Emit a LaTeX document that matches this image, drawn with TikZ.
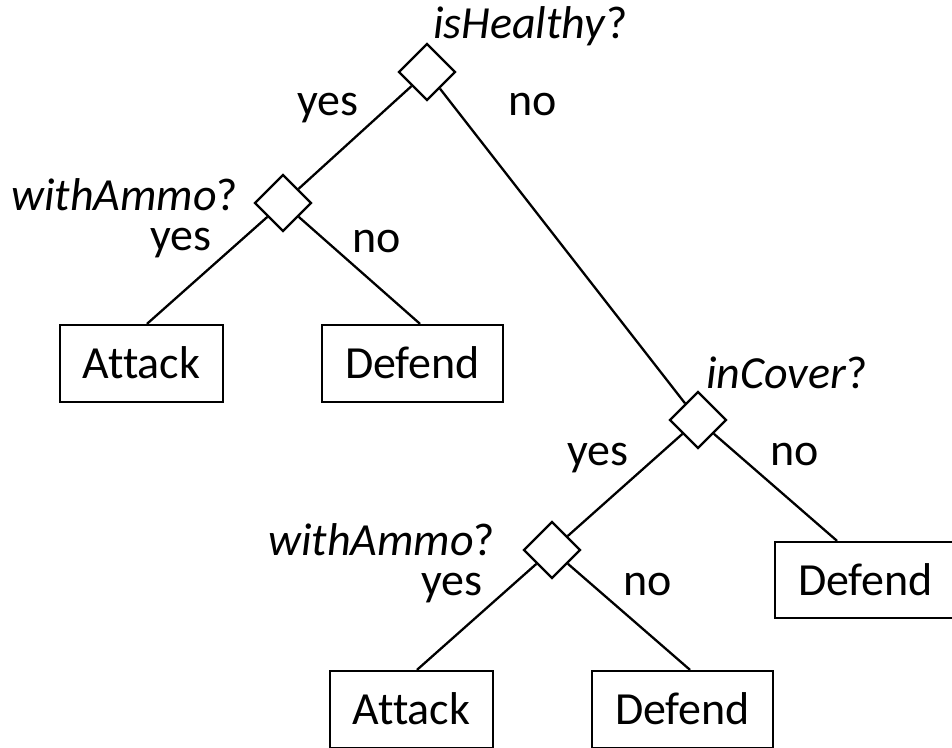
\documentclass[tikz,border=0pt]{standalone}
\usepackage{fontspec}
\setmainfont{Carlito}[Ligatures={NoCommon,NoContextual}]
\usetikzlibrary{shapes.geometric,calc}

\tikzset{
  decision/.style={diamond, draw, minimum width=57pt, minimum height=57pt,
    inner sep=0pt, line width=2.3pt},
  leaf/.style={rectangle, draw, minimum height=77pt, inner sep=0pt,
    text height=30pt, text depth=0pt, line width=2.3pt},
  branch/.style={line width=2.3pt},
  lbl/.style={anchor=base west, inner sep=0pt},
}

\begin{document}
\begin{tikzpicture}[x=1pt, y=-1pt, font=\fontsize{46}{50}\selectfont]
\useasboundingbox (0,0) rectangle (952,747);
\clip (0,0) rectangle (952,747);

% decision points
\node[decision] (healthy) at (427,72) {};
\node[decision] (ammoA)   at (283,203) {};
\node[decision] (cover)   at (698,420) {};
\node[decision] (ammoB)   at (552,550) {};

% actions
\node[leaf, minimum width=163pt] (attackA) at (141.5,363.5) {Attack};
\node[leaf, minimum width=181pt] (defendA) at (412.5,363.5) {Defend};
\node[leaf, minimum width=181pt, minimum height=76pt] (defendC) at (865.5,580) {Defend};
\node[leaf, minimum width=163pt] (attackB) at (411.5,709.5) {Attack};
\node[leaf, minimum width=181pt] (defendB) at (682.5,709.5) {Defend};

% branches
\draw[branch] (healthy) -- (ammoA);
\draw[branch] (healthy) -- (cover);
\draw[branch] (ammoA) -- ($(attackA.north)+(5.5,0)$);
\draw[branch] (ammoA) -- ($(defendA.north)+(7.5,0)$);
\draw[branch] (cover) -- (ammoB);
\draw[branch] (cover) -- ($(defendC.north)+(-28.5,0)$);
\draw[branch] (ammoB) -- ($(attackB.north)+(5.5,0)$);
\draw[branch] (ammoB) -- ($(defendB.north)+(7.5,0)$);

% questions
\node[lbl] (qHealthy) at (433,38)  {\textit{isHealthy}?};
\node[lbl] (qAmmoA)   at (11,210)  {\textit{withAmmo}?};
\node[lbl] (qCover)   at (706,388) {\textit{inCover}?};
\node[lbl] (qAmmoB)   at (268,555) {\textit{withAmmo}?};

% answers
\node[lbl] (yHealthy) at (297,115) {yes};
\node[lbl] (nHealthy) at (508,115) {no};
\node[lbl] (yAmmoA)   at (150,250) {yes};
\node[lbl] (nAmmoA)   at (352,252) {no};
\node[lbl] (yCover)   at (567,465) {yes};
\node[lbl] (nCover)   at (770,465) {no};
\node[lbl] (yAmmoB)   at (421,595) {yes};
\node[lbl] (nAmmoB)   at (623,595) {no};
\end{tikzpicture}
\end{document}
